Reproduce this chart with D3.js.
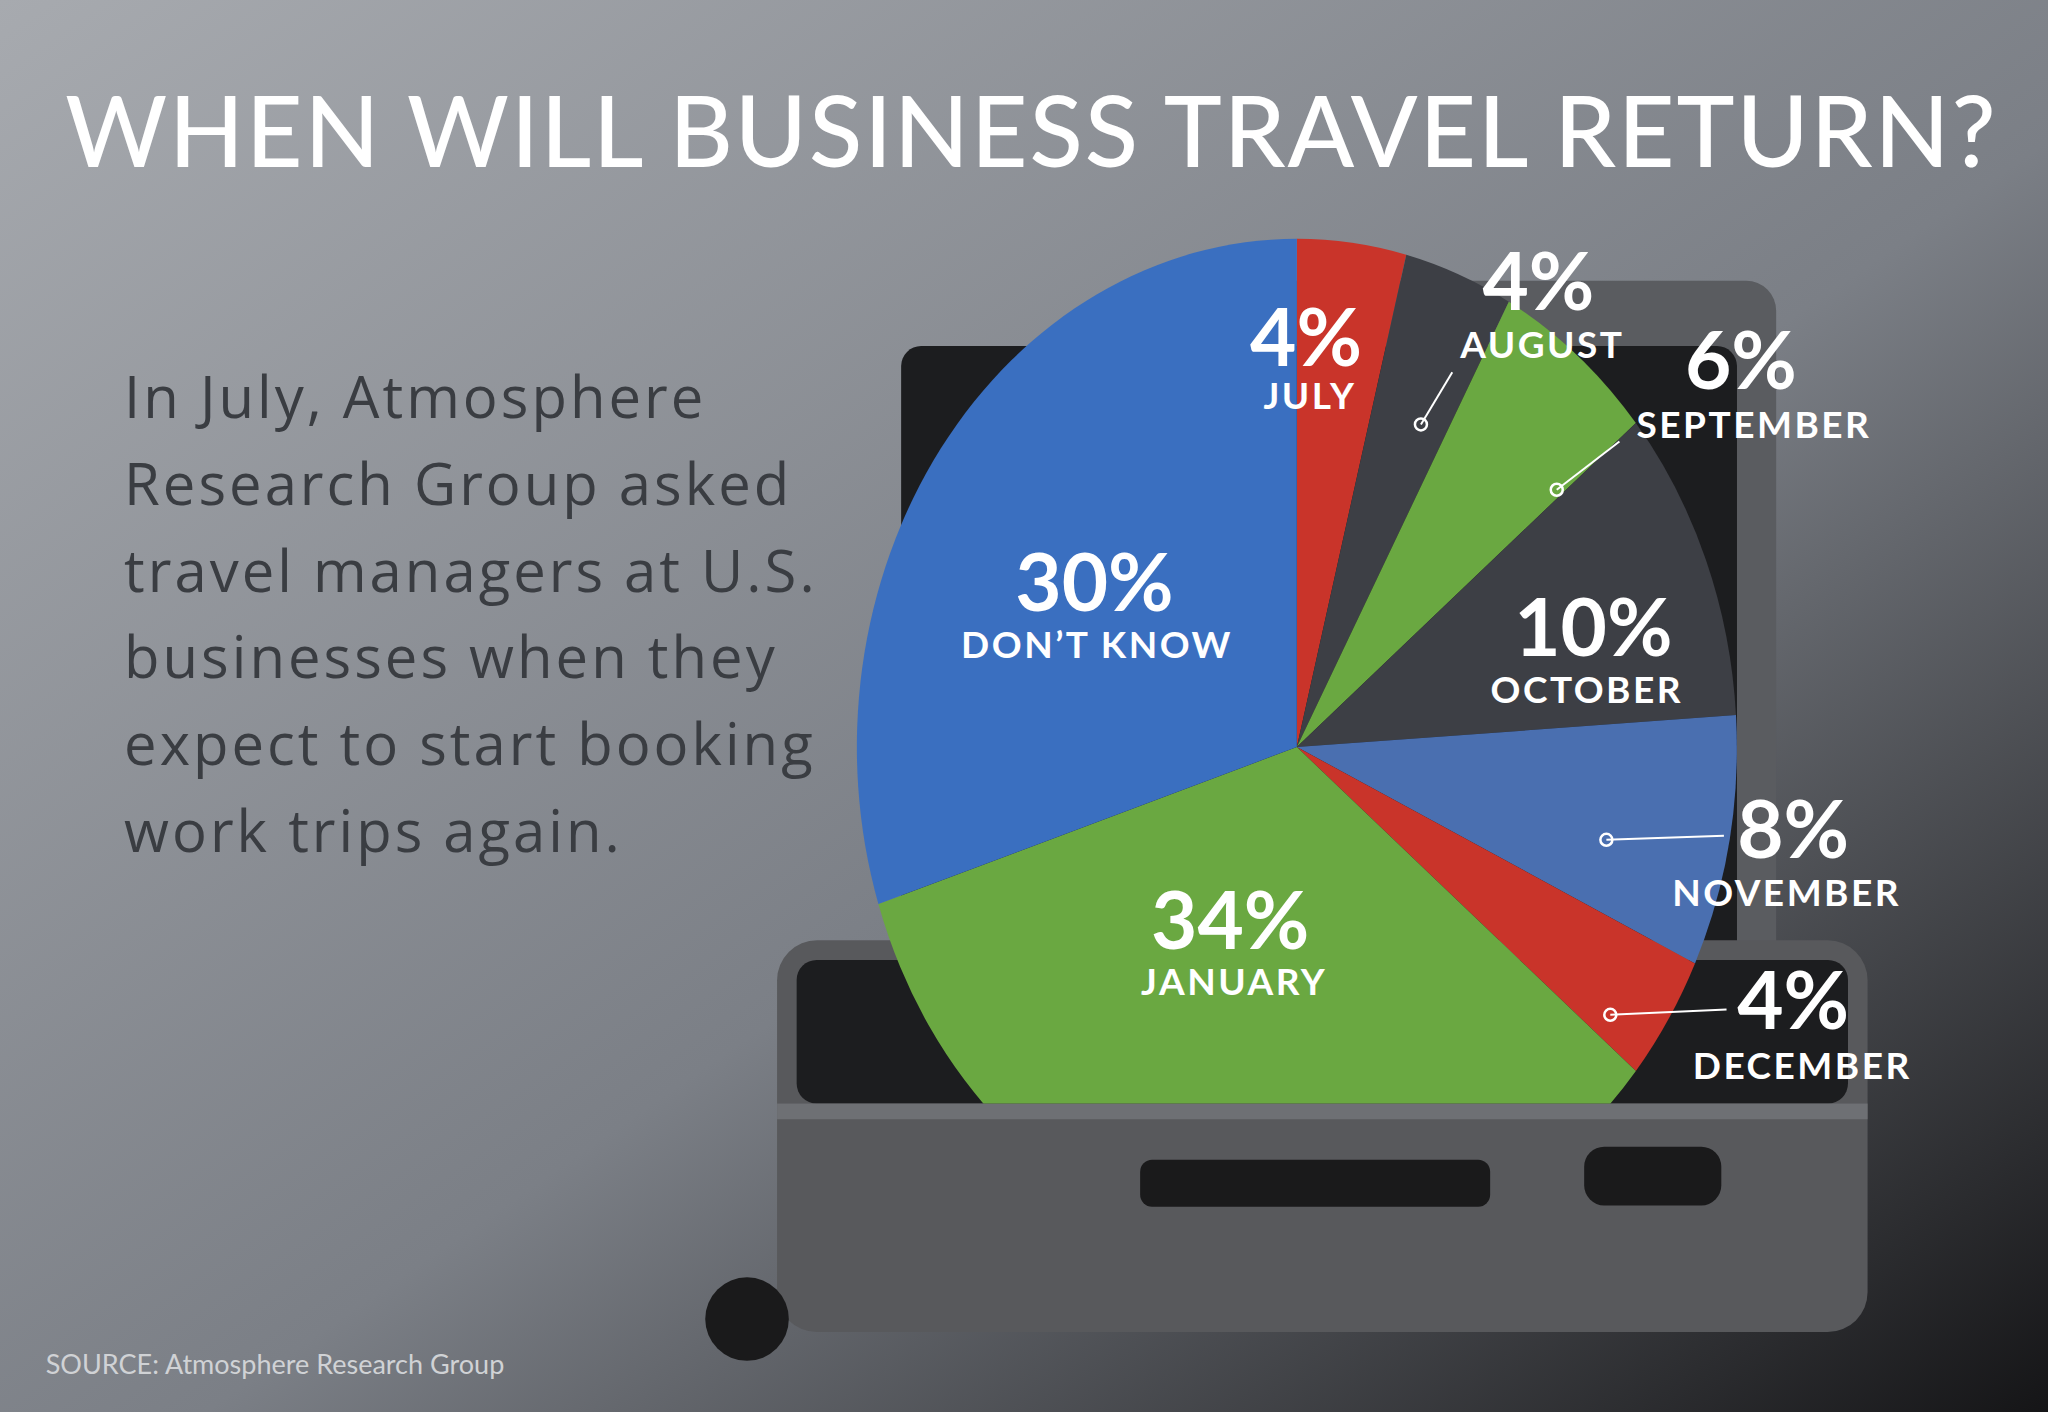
<!DOCTYPE html>
<html><head><meta charset="utf-8">
<script src="https://cdn.jsdelivr.net/npm/d3@7"></script>
<style>body{margin:0;}svg{display:block;}</style>
</head><body>
<script>
const categories=["JULY","AUGUST","SEPTEMBER","OCTOBER","NOVEMBER","DECEMBER","JANUARY","DON’T KNOW"];
const values=[4,4,6,10,8,4,34,30];
const colors=["#c9342a","#3d3f45","#6aa841","#3d3f45","#4a6fb0","#c9342a","#6aa841","#3a6fc0"];
const W=2048,H=1412,k=1.306;
const svg=d3.select("body").append("svg").attr("width",W).attr("height",H);
const defs=svg.append("defs");
const g=defs.append("linearGradient").attr("id","bg").attr("x1","0").attr("y1","0").attr("x2","1").attr("y2","1");
g.append("stop").attr("offset","0").attr("stop-color","#a7aaaf");
g.append("stop").attr("offset","0.55").attr("stop-color","#7b7f86");
g.append("stop").attr("offset","1").attr("stop-color","#151517");
svg.append("rect").attr("width",W).attr("height",H).attr("fill","url(#bg)");
const s=svg.append("g");
s.append("rect").attr("x",855*k).attr("y",215*k).attr("width",505*k).attr("height",560*k).attr("rx",30).attr("fill","#5a5c60");
s.append("rect").attr("x",690*k).attr("y",265*k).attr("width",640*k).attr("height",500*k).attr("rx",20).attr("fill","#1c1d1f");
s.append("rect").attr("x",595*k).attr("y",720*k).attr("width",835*k).attr("height",300*k).attr("rx",40).attr("fill","#58595c");
s.append("rect").attr("x",610*k).attr("y",735*k).attr("width",805*k).attr("height",110*k).attr("rx",20).attr("fill","#1c1d1f");
s.append("rect").attr("x",595*k).attr("y",845*k).attr("width",835*k).attr("height",12*k).attr("fill","#6e7074");
s.append("rect").attr("x",873*k).attr("y",888*k).attr("width",268*k).attr("height",36*k).attr("rx",12).attr("fill","#1a1a1b");
s.append("rect").attr("x",1213*k).attr("y",878*k).attr("width",105*k).attr("height",45*k).attr("rx",20).attr("fill","#1a1a1b");
s.append("circle").attr("cx",572*k).attr("cy",1010*k).attr("r",32*k).attr("fill","#1a1a1b");
const cx=993*k,cy=572*k,R=440,sy=1.155;
defs.append("clipPath").attr("id","clip").append("rect").attr("x",0).attr("y",0).attr("width",W).attr("height",845*k);
const pie=d3.pie().sort(null)(values);
const arc=d3.arc().innerRadius(0).outerRadius(R);
const pg=svg.append("g").attr("clip-path","url(#clip)").append("g").attr("transform",`translate(${cx},${cy}) scale(1,${sy})`);
pg.selectAll("path").data(pie).join("path").attr("d",arc).attr("fill",(d,i)=>colors[i]);
svg.append("text").attr("x",50*k).attr("y",128*k).attr("fill","#fff")
 .attr("font-family","Lato").attr("font-size",98).attr("font-weight",500).attr("textLength",1478*k).text("WHEN WILL BUSINESS TRAVEL RETURN?");
const body=["In July, Atmosphere","Research Group asked","travel managers at U.S.","businesses when they","expect to start booking","work trips again."];
svg.append("g").selectAll("text").data(body).join("text").attr("x",95*k).attr("y",(d,i)=>(320+i*66.5)*k)
 .attr("fill","#3a3d42").attr("font-family","Open Sans").attr("font-size",58).attr("letter-spacing",3).text(d=>d);
svg.append("text").attr("x",35*k).attr("y",1052*k).attr("fill","#d0d2d5").attr("font-family","Lato").attr("font-size",27).text("SOURCE: Atmosphere Research Group");
const lab=[[1000,280,1003,313],[1178,237,1181,274],[1333,298,1343,335],[1220,502,1215,538],[1373,657,1368,694],[1373,788,1380,826],[942,727,945,762],[838,468,840,504]];
const L=svg.append("g").attr("fill","#fff").attr("font-family","Lato").attr("text-anchor","middle");
lab.forEach((p,i)=>{
 L.append("text").attr("x",p[0]*k).attr("y",p[1]*k).attr("font-size",80).attr("font-weight",700).text(values[i]+"%");
 L.append("text").attr("x",p[2]*k).attr("y",p[3]*k).attr("font-size",37).attr("font-weight",700).attr("letter-spacing",2.5).text(categories[i]);
});
const leaders=[[1,1088,325,1112,285],[2,1192,375,1240,338],[4,1230,643,1320,640],[5,1233,777,1322,773]];
leaders.forEach(l=>{
 svg.append("line").attr("x1",l[1]*k).attr("y1",l[2]*k).attr("x2",l[3]*k).attr("y2",l[4]*k).attr("stroke","#fff").attr("stroke-width",2);
 svg.append("circle").attr("cx",l[1]*k).attr("cy",l[2]*k).attr("r",6).attr("fill","none").attr("stroke","#fff").attr("stroke-width",2.5);
});
</script>
</body></html>
